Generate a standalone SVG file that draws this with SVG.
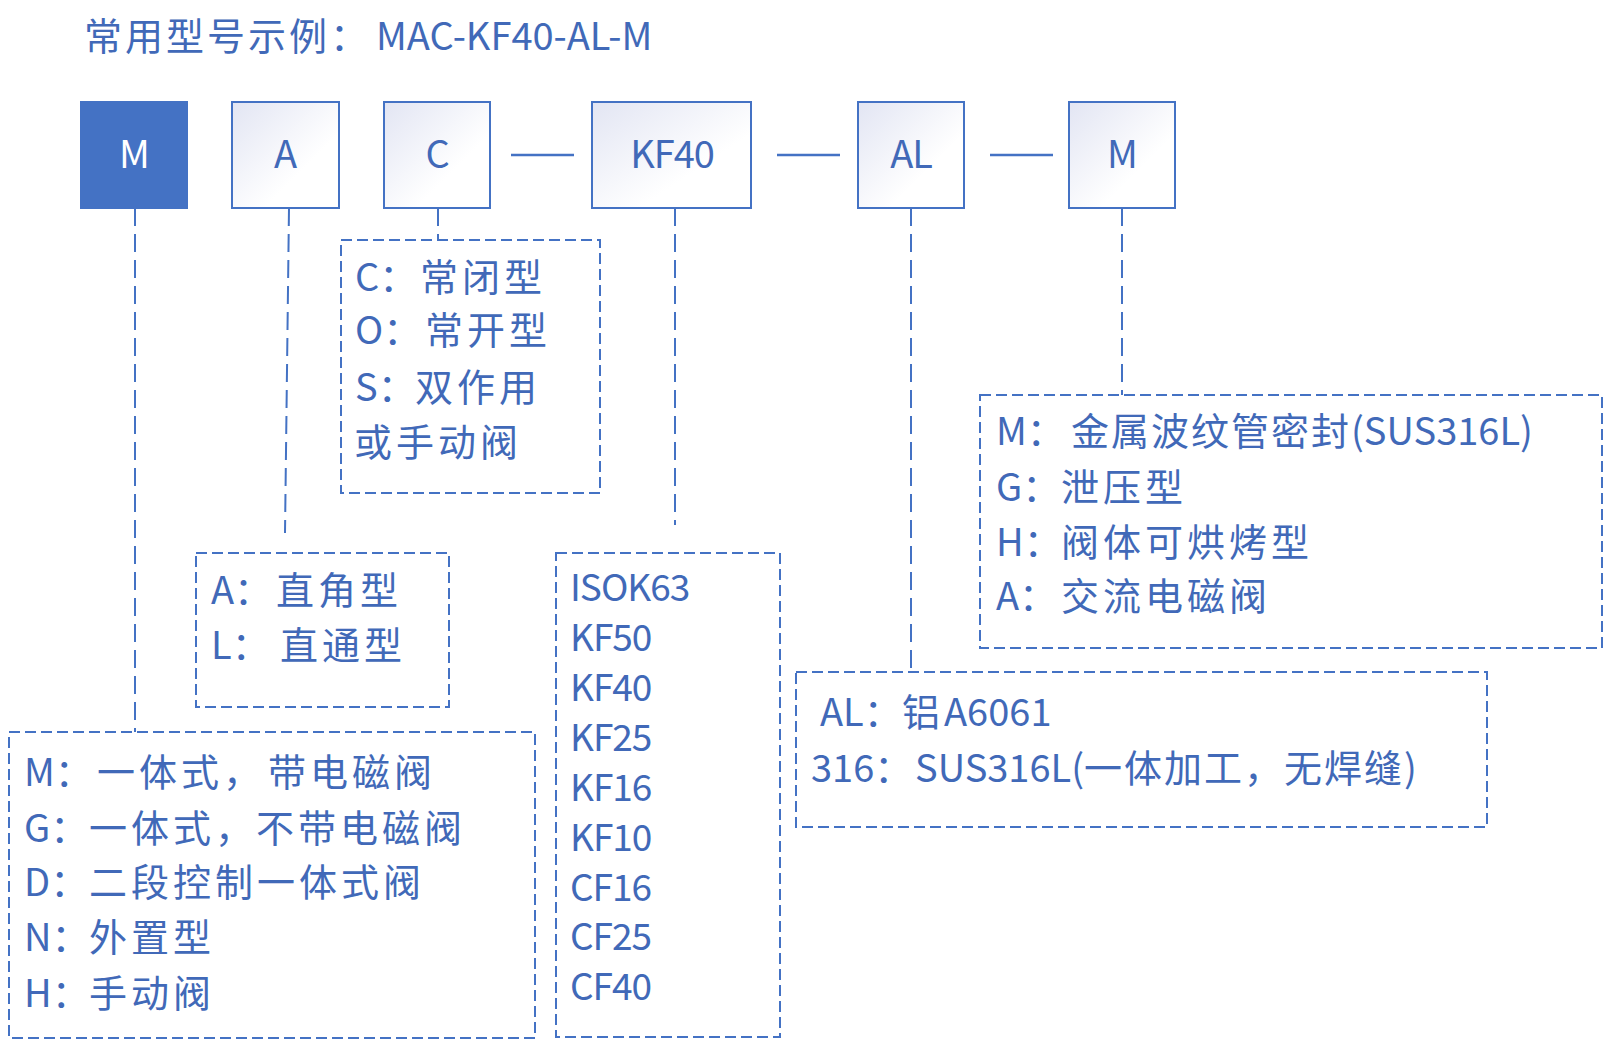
<svg xmlns="http://www.w3.org/2000/svg" width="1605" height="1041" viewBox="0 0 1605 1041">
<defs>
<linearGradient id="bg" x1="0" y1="0" x2="1" y2="1">
<stop offset="0" stop-color="#E2E5F3"/>
<stop offset="0.65" stop-color="#FFFFFF"/>
</linearGradient>
<style>
text{font-family:"Noto Sans CJK SC","Noto Sans",sans-serif;fill:#4169B8}
.t{font-size:38px;letter-spacing:4px}
.n{letter-spacing:0px}
.s2{letter-spacing:2px}
.k{font-size:37px;letter-spacing:-1px}
.bl{font-size:38px;text-anchor:middle;letter-spacing:-1px}
.box{fill:url(#bg);stroke:#4472C4;stroke-width:2}
.sel{fill:#4472C4;stroke:#4472C4;stroke-width:2}
.dbox{fill:none;stroke:#4472C4;stroke-width:2;stroke-dasharray:11 5}
.dl{fill:none;stroke:#4472C4;stroke-width:2;stroke-dasharray:18 8}
.sl{stroke:#4472C4;stroke-width:2.5}
</style>
</defs>
<rect width="1605" height="1041" fill="#FFFFFF"/>
<g id="title">
<text class="t" x="84" y="50"><tspan style="letter-spacing:3px">常用型号示例：</tspan><tspan class="n" x="376">MAC-KF40-AL-M</tspan></text>
</g>
<g id="connectors">
<line class="sl" x1="511" y1="155" x2="574" y2="155"/>
<line class="sl" x1="777" y1="155" x2="840" y2="155"/>
<line class="sl" x1="990" y1="155" x2="1053" y2="155"/>
<line class="dl" x1="135" y1="208" x2="135" y2="732"/>
<line class="dl" x1="289" y1="208" x2="285" y2="533"/>
<line class="dl" x1="438" y1="208" x2="438" y2="240"/>
<line class="dl" x1="675" y1="208" x2="675" y2="525"/>
<line class="dl" x1="911" y1="208" x2="911" y2="672"/>
<line class="dl" x1="1122" y1="208" x2="1122" y2="395"/>
</g>
<g id="node-M">
<rect class="sel" x="81" y="102" width="106" height="106"/>
<text class="bl" x="134" y="168" style="fill:#FFFFFF">M</text>
</g>
<g id="node-A">
<rect class="box" x="232" y="102" width="107" height="106"/>
<text class="bl" x="285" y="168">A</text>
</g>
<g id="node-C">
<rect class="box" x="384" y="102" width="106" height="106"/>
<text class="bl" x="437" y="168">C</text>
</g>
<g id="node-KF40">
<rect class="box" x="592" y="102" width="159" height="106"/>
<text class="bl" x="672" y="168">KF40</text>
</g>
<g id="node-AL">
<rect class="box" x="858" y="102" width="106" height="106"/>
<text class="bl" x="911" y="168">AL</text>
</g>
<g id="node-M2">
<rect class="box" x="1069" y="102" width="106" height="106"/>
<text class="bl" x="1122" y="168">M</text>
</g>
<g id="desc-C">
<rect class="dbox" x="341" y="240" width="259" height="253"/>
<text class="t" x="355" y="291"><tspan class="n">C：</tspan><tspan x="420">常闭型</tspan></text>
<text class="t" x="355" y="344"><tspan class="n">O：</tspan><tspan x="425">常开型</tspan></text>
<text class="t" x="355" y="401"><tspan class="n">S：</tspan><tspan x="415">双作用</tspan></text>
<text class="t" x="354" y="456">或手动阀</text>
</g>
<g id="desc-A">
<rect class="dbox" x="196" y="553" width="253" height="154"/>
<text class="t" x="211" y="604"><tspan class="n">A：</tspan><tspan x="276">直角型</tspan></text>
<text class="t" x="211" y="659"><tspan class="n">L：</tspan><tspan x="280">直通型</tspan></text>
</g>
<g id="desc-M">
<rect class="dbox" x="9" y="732" width="526" height="306"/>
<text class="t" x="24" y="786"><tspan class="n">M：</tspan><tspan x="97">一体式，</tspan><tspan x="268">带电磁阀</tspan></text>
<text class="t" x="24" y="842"><tspan class="n">G：</tspan><tspan x="89">一体式，</tspan><tspan x="256">不带电磁阀</tspan></text>
<text class="t" x="24" y="896"><tspan class="n">D：</tspan><tspan x="89">二段控制一体式阀</tspan></text>
<text class="t" x="24" y="951"><tspan class="n">N：</tspan><tspan x="89">外置型</tspan></text>
<text class="t" x="24" y="1007"><tspan class="n">H：</tspan><tspan x="89">手动阀</tspan></text>
</g>
<g id="desc-KF">
<rect class="dbox" x="556" y="553" width="224" height="484"/>
<text class="k" x="570" y="601">ISOK63</text>
<text class="k" x="570" y="651">KF50</text>
<text class="k" x="570" y="701">KF40</text>
<text class="k" x="570" y="751">KF25</text>
<text class="k" x="570" y="801">KF16</text>
<text class="k" x="570" y="851">KF10</text>
<text class="k" x="570" y="901">CF16</text>
<text class="k" x="570" y="950">CF25</text>
<text class="k" x="570" y="1000">CF40</text>
</g>
<g id="desc-AL">
<rect class="dbox" x="796" y="672" width="691" height="155"/>
<text class="t" x="820" y="726"><tspan class="n">AL：</tspan><tspan x="902">铝</tspan><tspan class="n">A6061</tspan></text>
<text class="t" x="811" y="782"><tspan class="n">316：</tspan><tspan class="n" x="915">SUS316L(</tspan><tspan class="s2">一体加工，无焊缝</tspan><tspan class="n">)</tspan></text>
</g>
<g id="desc-seal">
<rect class="dbox" x="980" y="395" width="622" height="253"/>
<text class="t" x="996" y="445"><tspan class="n">M：</tspan><tspan class="s2" x="1071">金属波纹管密封</tspan><tspan class="n">(SUS316L)</tspan></text>
<text class="t" x="996" y="501"><tspan class="n">G：</tspan><tspan x="1061">泄压型</tspan></text>
<text class="t" x="996" y="556"><tspan class="n">H：</tspan><tspan x="1061">阀体可烘烤型</tspan></text>
<text class="t" x="996" y="610"><tspan class="n">A：</tspan><tspan x="1061">交流电磁阀</tspan></text>
</g>
</svg>
